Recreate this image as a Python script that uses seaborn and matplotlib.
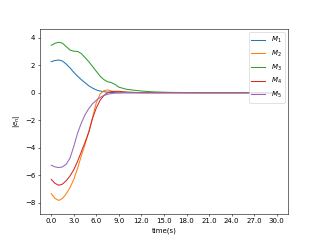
import numpy as np
import matplotlib
matplotlib.use("Agg")
import matplotlib.pyplot as plt
import seaborn as sns
from matplotlib.ticker import FormatStrFormatter

# время (с)
t = [0, 0.5, 1, 1.5, 2, 2.5, 3, 3.5, 4, 4.5, 5, 5.5, 6, 6.5, 7, 7.5, 8, 8.5,
     9, 10, 11, 12, 13, 14, 16, 20, 25, 30]

m1 = [2.26, 2.34, 2.38, 2.3, 2.08, 1.8, 1.48, 1.2, 0.95, 0.72, 0.5, 0.33, 0.2,
      0.12, 0.07, 0.04, 0.02, 0.01, 0, 0, 0, 0, 0, 0, 0, 0, 0, 0]
m2 = [-7.35, -7.7, -7.84, -7.7, -7.35, -6.9, -6.3, -5.5, -4.6, -3.75, -2.85,
      -1.8, -0.7, -0.1, 0.15, 0.2, 0.12, 0.06, 0.03, 0.01, 0, 0, 0, 0, 0, 0, 0, 0]
m3 = [3.45, 3.6, 3.67, 3.6, 3.35, 3.1, 3.02, 3.0, 2.85, 2.55, 2.25, 1.9, 1.55,
      1.2, 0.95, 0.8, 0.73, 0.6, 0.4, 0.25, 0.18, 0.12, 0.08, 0.05, 0.02, 0, 0, 0]
m4 = [-6.31, -6.6, -6.74, -6.65, -6.4, -6.05, -5.6, -5.0, -4.3, -3.6, -2.85,
      -1.85, -1.1, -0.55, -0.2, 0.0, 0.08, 0.1, 0.1, 0.05, 0.02, 0, 0, 0, 0, 0, 0, 0]
m5 = [-5.28, -5.4, -5.45, -5.4, -5.2, -4.75, -3.9, -2.95, -2.2, -1.6, -1.15,
      -0.8, -0.55, -0.35, -0.2, -0.12, -0.06, -0.03, -0.02, 0, 0, 0, 0, 0, 0, 0, 0, 0]

labels = ["$M_1$", "$M_2$", "$M_3$", "$M_4$", "$M_5$"]
series = [m1, m2, m3, m4, m5]
colors = sns.color_palette("tab10", 5)

fig, ax = plt.subplots(figsize=(6.4, 4.8), dpi=50)
for lab, s, c in zip(labels, series, colors):
    sns.lineplot(x=t, y=s, label=lab, color=c, ax=ax)

ax.set_xticks(np.arange(0, 31, 3))
ax.xaxis.set_major_formatter(FormatStrFormatter("%.1f"))
ax.set_ylim(-8.8, 4.65)
ax.set_xlabel("time(s)")
ax.set_ylabel("$|e_n|$")
ax.legend(loc="upper right")

fig.savefig("out.png", dpi=50)
